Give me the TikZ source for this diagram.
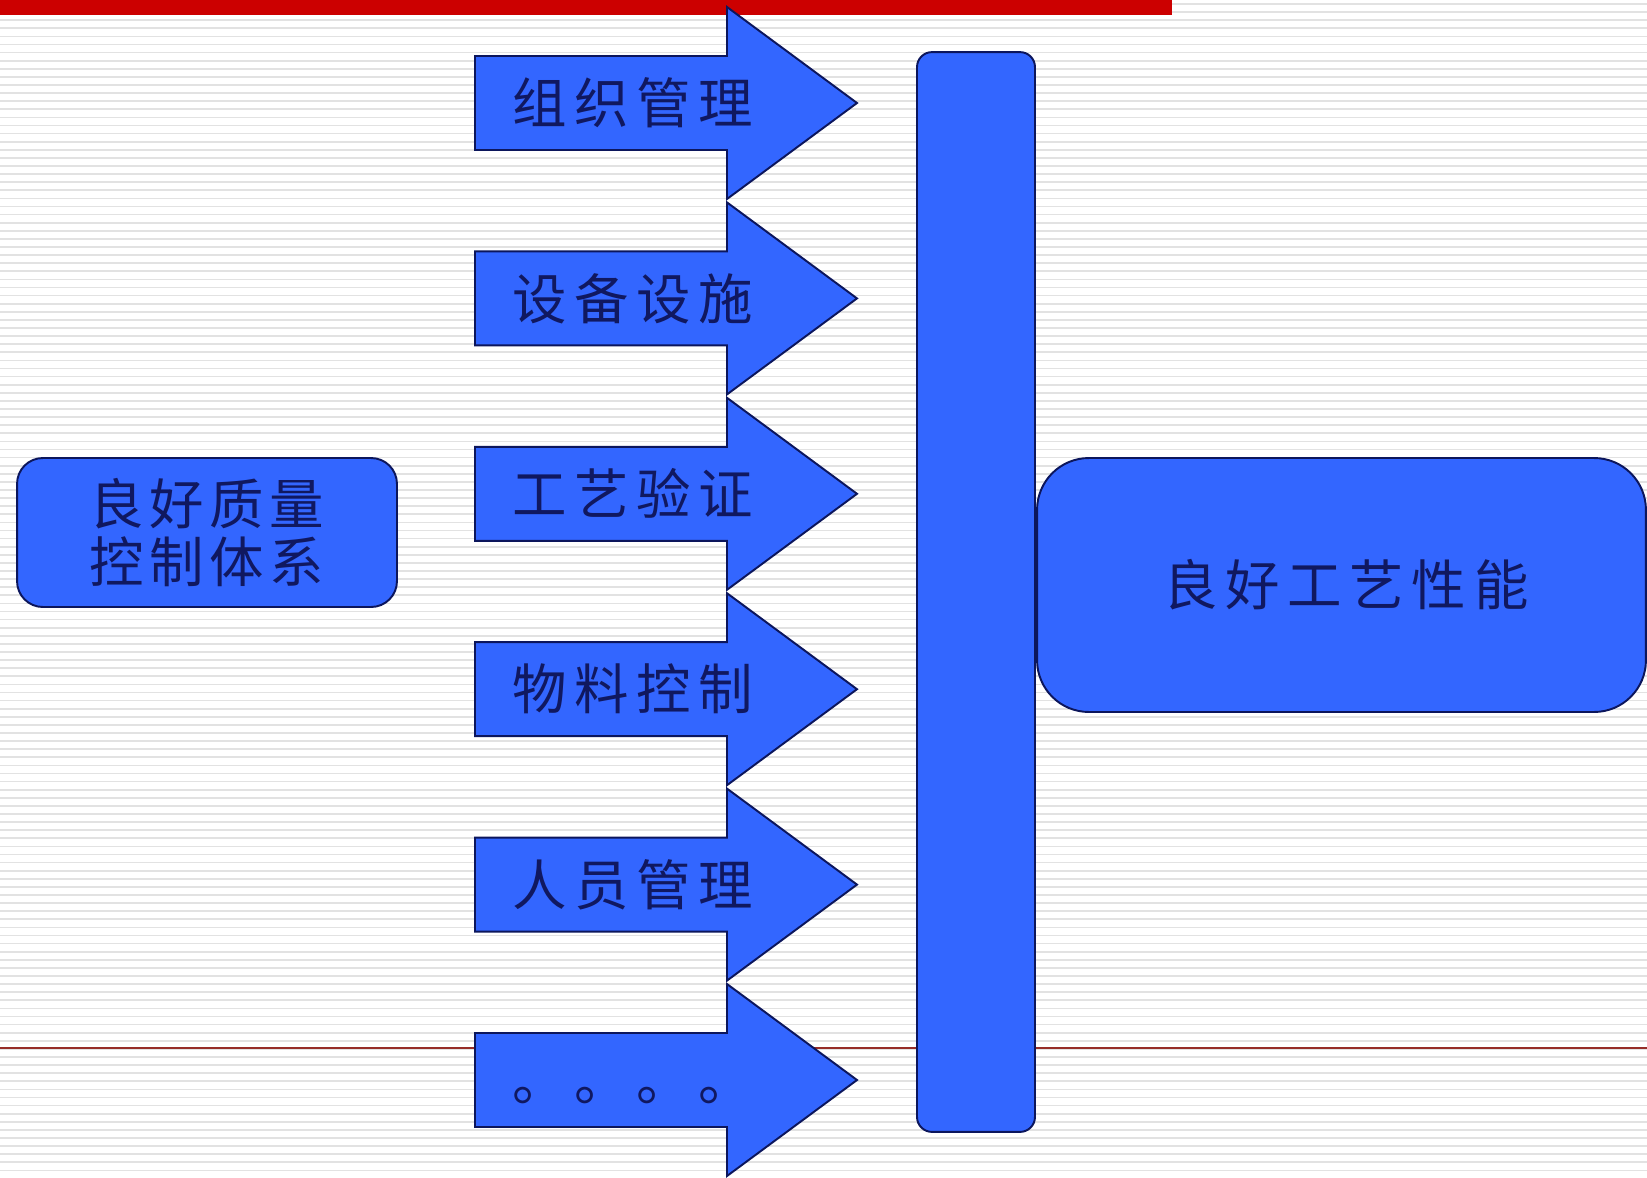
\documentclass[tikz,border=0pt]{standalone}
\usepackage{fontspec}
\newfontfamily\cjk{Noto Sans CJK SC}[LetterSpace=14]
\newfontfamily\cjkl{Noto Sans CJK SC}[LetterSpace=10]
\definecolor{boxblue}{RGB}{51,102,255}
\definecolor{edgenavy}{RGB}{12,22,92}
\definecolor{textnavy}{RGB}{16,24,96}
\definecolor{stripegray}{RGB}{226,226,226}
\definecolor{redbar}{RGB}{204,0,0}
\definecolor{redline}{RGB}{150,45,40}
\begin{document}
\begin{tikzpicture}[x=0.02cm,y=-0.02cm,
  shapefill/.style={fill=boxblue, draw=edgenavy, line width=1.1pt},
  lbl/.style={text=textnavy, font=\cjk\fontsize{31}{35}\selectfont, inner sep=0pt, text height=27.3pt, text depth=3.7pt},
  stripe/.style={draw=stripegray, line width=1pt}]
\useasboundingbox (0,0) rectangle (1647,1177);
\fill[white] (0,0) rectangle (1647,1177);
\foreach \i in {0,...,144} { \draw[stripe] (0,{4+\i*8.1}) -- (1647,{4+\i*8.1}); }
\fill[redbar] (0,0) rectangle (1172,15);
\draw[redline, line width=0.85pt] (0,1048) -- (1647,1048);
% left box
\node[shapefill, rounded corners=14.7pt, minimum width=7.6cm, minimum height=2.98cm, inner sep=0pt,
      text=textnavy, align=center, font=\cjkl\fontsize{31}{32.5}\selectfont] (src) at (207,532.5) {良好质量\\控制体系};
% vertical bar
\node[shapefill, rounded corners=8.5pt, minimum width=2.36cm, minimum height=21.6cm, inner sep=0pt] (bar) at (976,592) {};
% right box
\node[shapefill, rounded corners=29.5pt, minimum width=12.18cm, minimum height=5.08cm, inner sep=0pt] (dst) at (1341.5,585) {};
\node[lbl] (dsttext) at (1346,585) {良好工艺性能};
% arrows
\foreach \k/\t in {0/组织管理, 1/设备设施, 2/工艺验证, 3/物料控制, 4/人员管理, 5/。。。。} {
  \pgfmathsetmacro\cy{103+\k*195.4}
  \draw[shapefill] (475,\cy-47) -- (727,\cy-47) -- (727,\cy-96) -- (857,\cy) -- (727,\cy+96) -- (727,\cy+47) -- (475,\cy+47) -- cycle;
  \node[lbl] (arr\k) at (633,\cy) {\t};
}
\end{tikzpicture}
\end{document}
